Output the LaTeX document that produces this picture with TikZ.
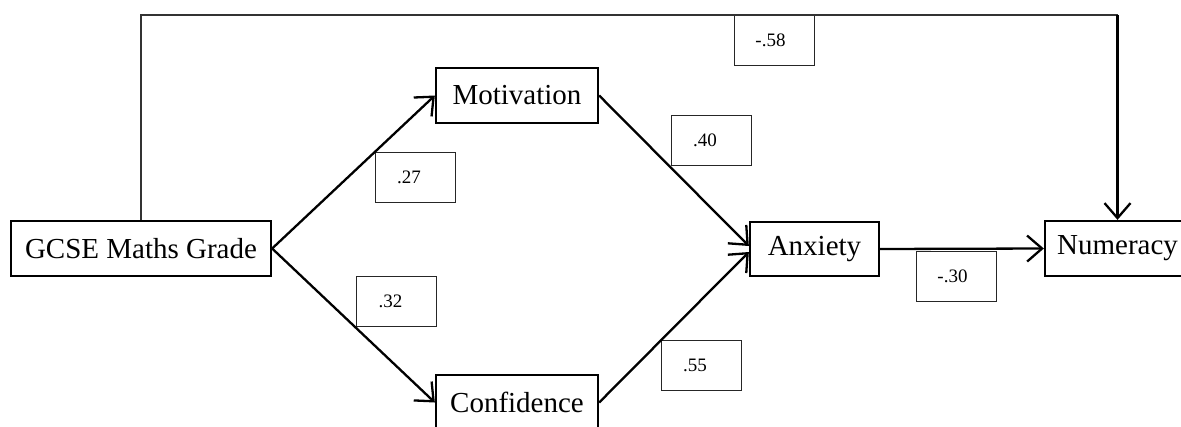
\documentclass[tikz,border=0pt]{standalone}
\usepackage{fontspec}
\setmainfont{Liberation Serif}
\usetikzlibrary{arrows.meta}
\tikzset{
  var/.style={draw, line width=2.3pt, rectangle, inner sep=0pt, font=\fontsize{29}{34}\selectfont},
  lbl/.style={draw, line width=1pt, draw=black!85, rectangle, inner sep=0pt, minimum width=80pt, minimum height=50pt, font=\fontsize{19}{22}\selectfont},
  path/.style={line width=2.3pt, -{Straight Barb[length=15pt,width=26pt]}},
}
\begin{document}
\begin{tikzpicture}[x=1pt,y=-1pt]
\useasboundingbox (0,0) rectangle (1181,426);
\node[var, minimum width=260pt, minimum height=55pt] (gcse) at (141,248.5) {GCSE Maths Grade};
\node[var, minimum width=162pt, minimum height=55pt] (mot) at (517,95.5) {Motivation};
\node[var, minimum width=162pt, minimum height=55pt] (conf) at (517,402.5) {Confidence};
\node[var, minimum width=129pt, minimum height=54pt] (anx) at (814.5,249) {Anxiety};
\node[var, minimum width=145pt, minimum height=55pt] (num) at (1117.5,248.5) {Numeracy};

\node[lbl, fill=white] (l58) at (774,40.5) {-.58\kern7pt};
\node[lbl, fill=white] (l27) at (415,177) {.27\kern12pt};
\node[lbl, fill=white] (l32) at (396.5,301.5) {.32\kern12pt};
\node[lbl, fill=white] (l40) at (711,140) {.40\kern12pt};
\node[lbl, fill=white] (l55) at (701,365.5) {.55\kern12pt};
\node[lbl, fill=white] (l30) at (956,276) {-.30\kern7pt};

\coordinate (T) at (0,15);
\coordinate (TR) at (T -| num.north);
\draw[line width=1.3pt, draw=black!80] (gcse.north) |- (TR);
\draw[path] (TR) -- (num.north);

\draw[path] (gcse.east) -- (mot.west);
\draw[path] (gcse.east) -- (conf.west);
\draw[path] (mot.east) -- ([yshift=3pt]anx.west);
\draw[path] (conf.east) -- ([yshift=-3pt]anx.west);
\draw[path] (anx.east) -- (num.west);
\end{tikzpicture}
\end{document}
